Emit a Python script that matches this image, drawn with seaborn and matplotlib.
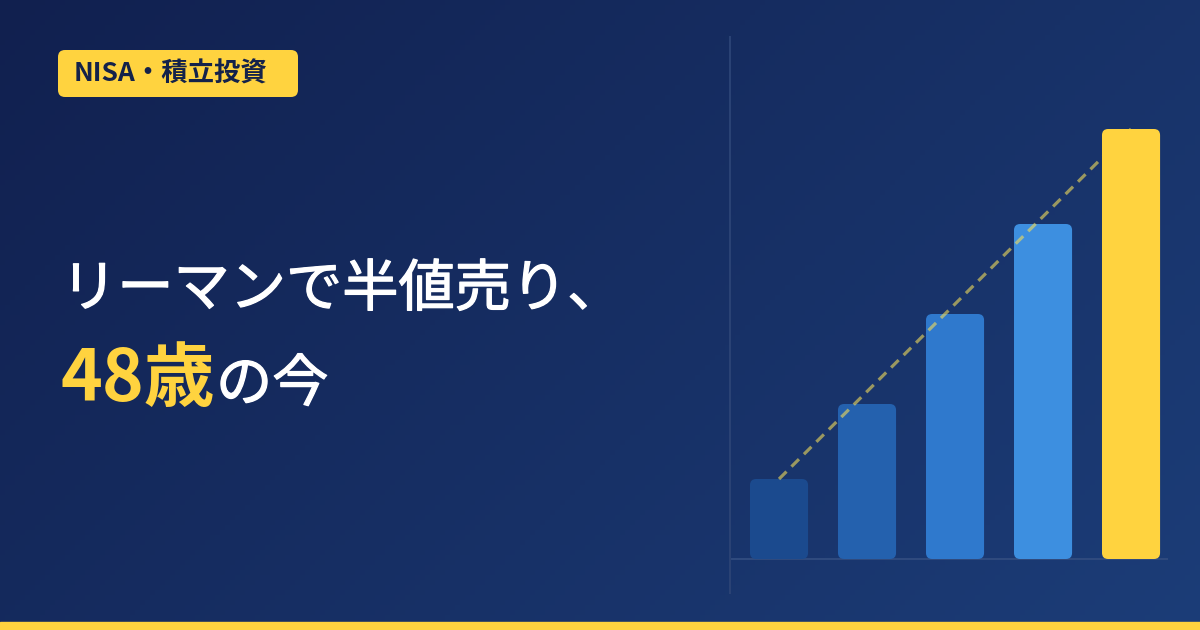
import numpy as np
import matplotlib
matplotlib.use("Agg")
import matplotlib.pyplot as plt
import matplotlib.patheffects as pe
from matplotlib.patches import FancyBboxPatch, Rectangle
import seaborn as sns

# chart data (relative asset size)
stages = ["s1", "s2", "s3", "s4", "s5"]
values = [80, 155, 245, 335, 430]
bar_colors = ["#1b4a8e", "#2461ae", "#2f79cd", "#3d8fe0", "#ffd33f"]

badge_text = "NISA・積立投資"
title_line1 = "リーマンで半値売り、"
title_age = "48歳"
title_rest = "の今"

sns.set_style("white")
plt.rcParams['font.family'] = ['Noto Sans CJK JP', 'DejaVu Sans']

fig = plt.figure(figsize=(12, 6.3), dpi=100)

# background: diagonal navy gradient, pixel coordinates
bg = fig.add_axes([0, 0, 1, 1])
bg.set_xlim(0, 1200); bg.set_ylim(630, 0); bg.axis('off')
c0 = np.array([0x11, 0x20, 0x4f]) / 255
c1 = np.array([0x1c, 0x3d, 0x78]) / 255
xx, yy = np.meshgrid(np.linspace(0, 1, 240), np.linspace(0, 1, 126))
t = (xx * 0.65 + yy * 0.35)[..., None]
bg.imshow(c0 + (c1 - c0) * t, extent=(0, 1200, 630, 0), aspect='auto', zorder=0)

# bottom stripe
bg.add_patch(Rectangle((0, 622), 1200, 8, color="#ffd33f", zorder=1))

# badge
bg.add_patch(FancyBboxPatch((58, 50), 240, 47, boxstyle="round,pad=0,rounding_size=7",
                            fc="#ffd33f", ec="none", zorder=2))
bg.text(74, 74.5, badge_text, fontsize=19, fontweight='bold', color="#14224a",
        va='center', ha='left', zorder=3)

# title (thin white stroke to get a medium weight look)
medium = [pe.withStroke(linewidth=0.9, foreground="white")]
bg.text(61, 306, title_line1, fontsize=40.5, color="white",
        va='baseline', ha='left', zorder=3, path_effects=medium)
bg.text(60, 401, title_age, fontsize=51, fontweight='bold', color="#ffd33f",
        va='baseline', ha='left', zorder=3)
bg.text(216, 401, title_rest, fontsize=40.5, color="white",
        va='baseline', ha='left', zorder=3, path_effects=medium)

# bar chart
ax = fig.add_axes([730 / 1200, 37 / 630, 438 / 1200, 556 / 630])
ax.patch.set_alpha(0)
sns.barplot(x=stages, y=values, hue=stages, palette=bar_colors, legend=False,
            width=0.66, ax=ax, saturation=1)
ax.set_xlim(-0.557, 4.42)
ax.set_ylim(-34, 522)

# rounded bars
for i, p in enumerate(list(ax.patches)):
    x0, y0, w, h = p.get_x(), p.get_y(), p.get_width(), p.get_height()
    fc = p.get_facecolor()
    p.remove()
    ax.add_patch(FancyBboxPatch((x0, y0), w, h,
                                boxstyle="round,pad=0,rounding_size=0.07",
                                mutation_aspect=88, fc=fc, ec="none",
                                zorder=4 if i == len(values) - 1 else 2))

# dashed trend from first to last bar
ax.plot([0, len(values) - 1], [values[0], values[-1]], color="#f2dc5a", alpha=0.6,
        lw=2.3, ls=(0, (3.3, 2.2)), zorder=3, solid_capstyle='butt')

ax.axhline(0, color="#2f4a7e", lw=1.5, zorder=1)
for s in ["top", "right", "bottom"]:
    ax.spines[s].set_visible(False)
ax.spines["left"].set_color("#2a4274")
ax.spines["left"].set_linewidth(1.5)
ax.set_xticks([]); ax.set_yticks([])
ax.set_xlabel(''); ax.set_ylabel('')

fig.savefig("out.png", dpi=100)
